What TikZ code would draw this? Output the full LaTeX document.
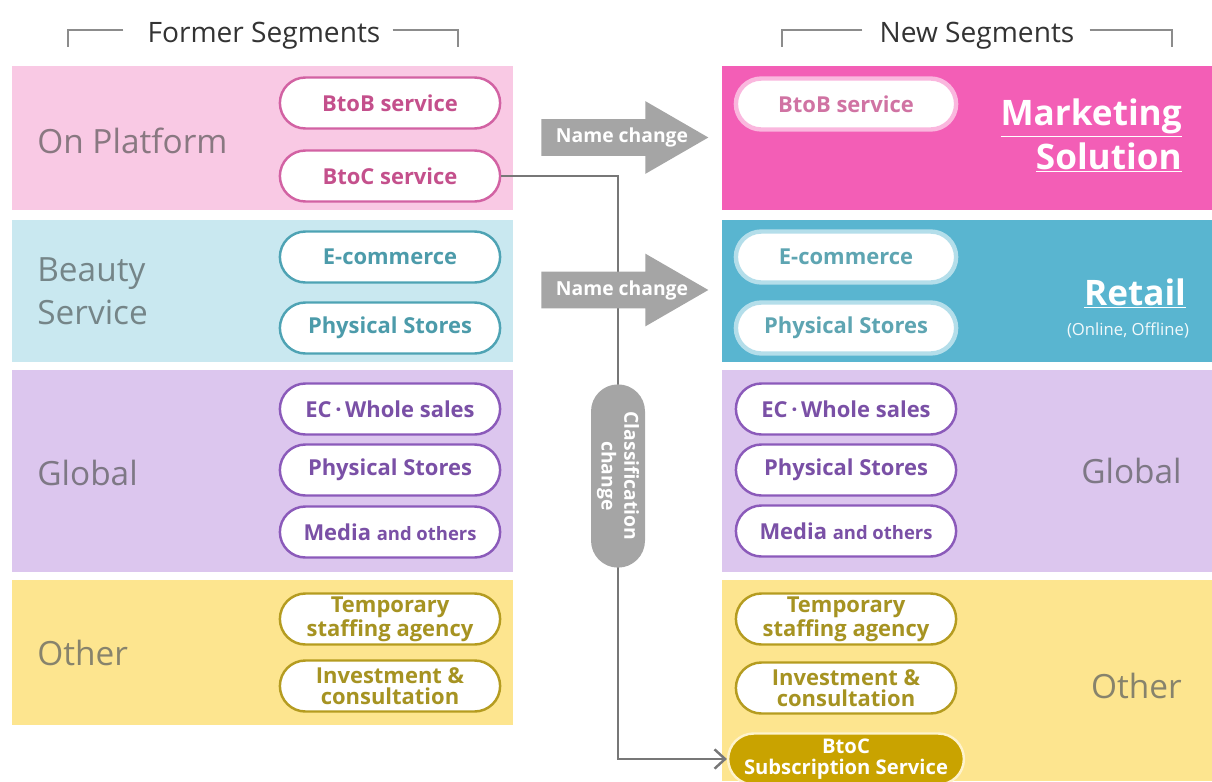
\documentclass[tikz,border=0pt]{standalone}
\usepackage{fontspec}
\setmainfont{Open Sans}
\usetikzlibrary{shapes.misc,shapes.arrows,arrows.meta}

\definecolor{platpink}{HTML}{F9C9E4}
\definecolor{mktpink}{HTML}{F35EB6}
\definecolor{beautyblue}{HTML}{C9E8F0}
\definecolor{retailblue}{HTML}{59B5D0}
\definecolor{globallav}{HTML}{DCC6EE}
\definecolor{otheryel}{HTML}{FDE58F}
\definecolor{subgold}{HTML}{C9A300}
\definecolor{arrowgray}{HTML}{A5A5A5}
\definecolor{linegray}{HTML}{777777}
\definecolor{pinkline}{HTML}{D262A3}
\definecolor{pinktext}{HTML}{C4508C}
\definecolor{blueline}{HTML}{4EA3B4}
\definecolor{bluetext}{HTML}{4C9BAA}
\definecolor{purpline}{HTML}{8B5ABA}
\definecolor{purptext}{HTML}{7A50A6}
\definecolor{yelline}{HTML}{B59C20}
\definecolor{yeltext}{HTML}{A69322}
\definecolor{labelgray}{HTML}{7F7F7F}

\tikzset{
  heading/.style={font=\fontsize{16}{18}\selectfont, text=black!80, inner sep=0pt},
  bracket/.style={draw=black!45, line width=0.8pt},
  seglabel/.style={font=\fontsize{19}{24.4}\selectfont, text=labelgray, inner sep=0pt, align=left},
  pill/.style={rounded rectangle, minimum width=4.64cm, minimum height=1.02cm,
    inner ysep=1pt, line width=1.4pt, fill=white, align=center,
    font=\bfseries\fontsize{12.5}{12}\selectfont},
  pinkpill/.style={pill, draw=pinkline, text=pinktext},
  bluepill/.style={pill, draw=blueline, text=bluetext},
  purppill/.style={pill, draw=purpline, text=purptext},
  yelpill/.style={pill, draw=yelline, text=yeltext},
  glowpill/.style={pill, draw=white!55!#1, line width=2.5pt},
  bigwhite/.style={font=\bfseries\fontsize{20}{25}\selectfont, text=white, inner sep=0pt},
  namearrow/.style={single arrow, fill=arrowgray, inner xsep=0pt, inner ysep=0.36cm,
    minimum height=3.34cm, single arrow head extend=0.36cm, single arrow tip angle=60},
  arrowtext/.style={font=\bfseries\fontsize{11}{12}\selectfont, text=white},
  connector/.style={draw=linegray, line width=1.4pt, -{Straight Barb[length=6pt,width=11pt]}}
}

\begin{document}
\begin{tikzpicture}[x=0.02cm, y=-0.02cm]
  \clip (0,0) rectangle (1212,781);

  % headings with brackets
  \node[heading, anchor=base] (hformer) at (264,42) {Former Segments};
  \node[heading, anchor=base] (hnew) at (977,42) {New Segments};
  \draw[bracket] (hformer.west) ++(-24,-5) -| (68,47);
  \draw[bracket] (hformer.east) ++(12,-5) -| (458,47);
  \draw[bracket] (hnew.west) ++(-17,-5) -| (782,47);
  \draw[bracket] (hnew.east) ++(15,-5) -| (1172,47);

  % former segment panels
  \fill[platpink] (12,66) rectangle (513,210);
  \fill[beautyblue] (12,220) rectangle (513,362);
  \fill[globallav] (12,370) rectangle (513,572);
  \fill[otheryel] (12,580) rectangle (513,725);

  % new segment panels
  \fill[mktpink] (722,66) rectangle (1212,210);
  \fill[retailblue] (722,220) rectangle (1212,362);
  \fill[globallav] (722,370) rectangle (1212,572);
  \fill[otheryel] (722,580) rectangle (1212,781);

  % segment names, left
  \node[seglabel, anchor=base west, text=labelgray!85!pinktext] (lplat) at (37,153) {On Platform};
  \node[seglabel, anchor=west, text=labelgray!80!bluetext] (lbeauty) at (37,291.5) {Beauty\\Service};
  \node[seglabel, anchor=base west, text=labelgray!85!purptext] (lglobal) at (37,485) {Global};
  \node[seglabel, anchor=base west, text=labelgray!80!yeltext] (lother) at (37,665) {Other};

  % segment names, right
  \node[bigwhite, anchor=base east] (rmarket) at (1182,125) {\underline{Marketing}};
  \node[bigwhite, anchor=base east] (rsolution) at (1182,169) {\underline{Solution}};
  \node[bigwhite, anchor=base] (rretail) at (1135,305) {\underline{Retail}};
  \node[font=\fontsize{9.5}{10}\selectfont, text=white!92!retailblue] (ronline) at (1128,330) {(Online, Offline)};
  \node[seglabel, anchor=base east, text=labelgray!85!purptext] (rglobal) at (1182,483) {Global};
  \node[seglabel, anchor=base east, text=labelgray!80!yeltext] (rother) at (1182,698) {Other};

  % businesses, left
  \node[pinkpill] (lbtob) at (390,103) {BtoB service};
  \node[pinkpill] (lbtoc) at (390,176) {BtoC service};
  \node[bluepill] (lecom) at (390,257) {E-commerce};
  \node[bluepill] (lphys) at (390,328) {Physical Stores};
  \node[purppill] (lecws) at (390,409) {EC\,·\,Whole sales};
  \node[purppill] (lgphys) at (390,470) {Physical Stores};
  \node[purppill] (lmedia) at (390,532) {Media {\fontsize{10.5}{12}\selectfont and others}};
  \node[yelpill] (ltemp) at (390,619) {Temporary\\staffing agency};
  \node[yelpill] (linv) at (390,686) {Investment \&\\consultation};

  % businesses, right
  \node[glowpill=mktpink, text=pinktext!80!white] (rbtob) at (846,104) {BtoB service};
  \node[glowpill=retailblue, text=bluetext!90!white] (recom) at (846,257) {E-commerce};
  \node[glowpill=retailblue, text=bluetext!90!white] (rphys) at (846,328) {Physical Stores};
  \node[purppill] (recws) at (846,409) {EC\,·\,Whole sales};
  \node[purppill] (rgphys) at (846,470) {Physical Stores};
  \node[purppill] (rmedia) at (846,531) {Media {\fontsize{10.5}{12}\selectfont and others}};
  \node[yelpill] (rtemp) at (846,619) {Temporary\\staffing agency};
  \node[yelpill] (rinv) at (846,688) {Investment \&\\consultation};
  \node[pill, fill=subgold, draw=white!55!otheryel, text=white,
        font=\bfseries\fontsize{11.5}{12}\selectfont] (rsub) at (846,759) {BtoC\\Subscription Service};

  % btoc moves to other
  \coordinate (drop) at (618,476);
  \draw[connector] (lbtoc.east) -| (drop) |- (rsub.west);

  % name change arrows
  \node[namearrow, anchor=tail] (ncmkt) at (541,137.5) {};
  \node[arrowtext] (ncmkttext) at (622,137.5) {Name change};
  \node[namearrow, anchor=tail] (ncretail) at (541,290) {};
  \node[arrowtext] (ncretailtext) at (622,290) {Name change};

  % classification change
  \node[rounded rectangle, rotate=-90, minimum width=3.9cm, minimum height=1.06cm,
        fill=arrowgray, text=white, align=center,
        font=\bfseries\fontsize{11}{13}\selectfont] (clsf) at (drop) {Classification\\change};
\end{tikzpicture}
\end{document}
